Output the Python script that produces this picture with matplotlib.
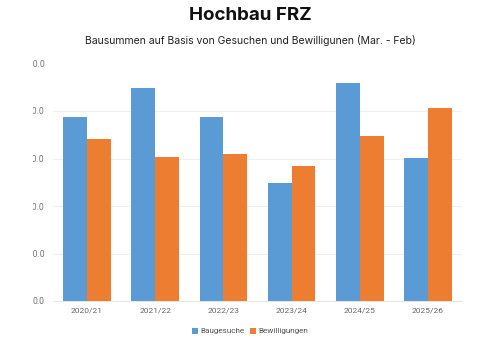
import matplotlib
matplotlib.use("Agg")
import matplotlib.pyplot as plt
import numpy as np
from matplotlib.transforms import Bbox

categories = ["2020/21", "2021/22", "2022/23", "2023/24", "2024/25", "2025/26"]
baugesuche = [387, 449, 388, 248, 458, 301]
bewilligungen = [341, 304, 310, 285, 348, 406]
y_ticks = [0, 100, 200, 300, 400, 500]

plt.rcParams["font.family"] = ["Roboto", "DejaVu Sans"]

fig = plt.figure(figsize=(5.0, 3.38), dpi=100)
W, H = 500, 338
ax = fig.add_axes([53 / W, 1 - 301 / H, (462 - 53) / W, (301 - 63.5) / H])

x = np.arange(len(categories))
bw = 0.35
ax.bar(x - bw / 2, baugesuche, bw, color="#5B9BD5", label="Baugesuche", zorder=3)
ax.bar(x + bw / 2, bewilligungen, bw, color="#ED7D31", label="Bewilligungen", zorder=3)

ax.set_xlim(-0.5, len(categories) - 0.5)
ax.set_ylim(0, 500)
ax.set_yticks(y_ticks)
ax.set_yticklabels([f"{v:.1f}" for v in y_ticks])
ax.set_xticks(x)
ax.set_xticklabels(categories)

ax.grid(axis="y", color="#efefef", linewidth=0.8, zorder=0)
for s in ["top", "right", "left"]:
    ax.spines[s].set_visible(False)
ax.spines["bottom"].set_color("#e6e6e6")
ax.spines["bottom"].set_linewidth(0.8)
ax.tick_params(axis="y", length=0, pad=6, labelsize=6.2, labelcolor="#777777")
ax.tick_params(axis="x", length=0, pad=5, labelsize=6, labelcolor="#666666")

# y labels are cut off on the left at a fixed margin
clip = Bbox.from_extents(32.5, 0, W, H)
for lbl in ax.get_yticklabels():
    lbl.set_clip_box(clip)
    lbl.set_clip_on(True)

fig.text(0.5, 1 - 15 / H, "Hochbau FRZ", ha="center", va="center",
         fontsize=13.5, fontweight="bold", color="#111111",
         family=["Inter", "DejaVu Sans"])
fig.text(0.5, 1 - 41 / H, "Bausummen auf Basis von Gesuchen und Bewilligunen (Mar. - Feb)",
         ha="center", va="center", fontsize=7.5, color="#222222",
         family=["Inter", "DejaVu Sans"])

fig.legend(loc="center", bbox_to_anchor=(250 / W, 1 - 331 / H), ncol=2,
           frameon=False, fontsize=5.9, handlelength=0.8, handleheight=0.8,
           handletextpad=0.3, columnspacing=0.6, labelcolor="#555555")

fig.savefig("out.png", dpi=100, facecolor="white")
